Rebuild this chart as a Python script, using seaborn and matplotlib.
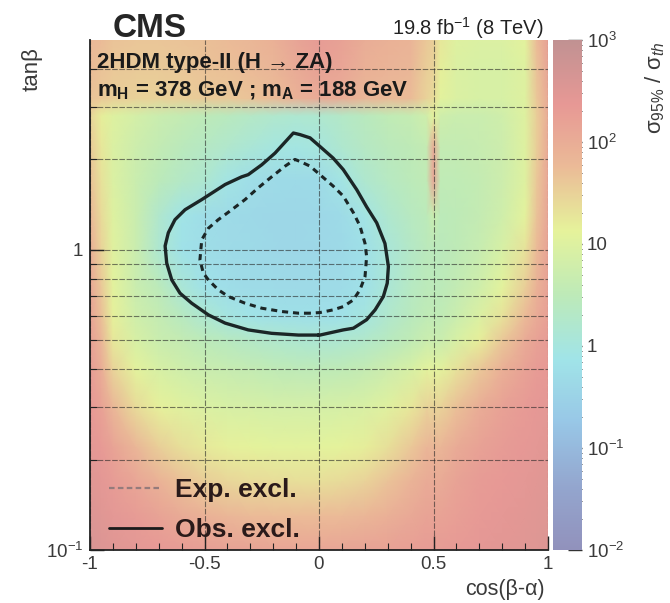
import numpy as np
import matplotlib
matplotlib.use("Agg")
import matplotlib.pyplot as plt
import seaborn as sns
from matplotlib.colors import LinearSegmentedColormap, LogNorm
from matplotlib.ticker import FixedLocator, NullFormatter
from matplotlib.lines import Line2D

# ---------------- data ----------------
cos_ba = [-1.0, -0.95, -0.9, -0.8, -0.7, -0.6, -0.5, -0.4, -0.3, -0.2, -0.1, 0.0,
          0.1, 0.2, 0.3, 0.4, 0.47, 0.5, 0.53, 0.6, 0.7, 0.8, 0.9, 0.95, 1.0]
tan_b = [0.10, 0.13, 0.17, 0.22, 0.30, 0.40, 0.50, 0.60, 0.75, 1.00, 1.30, 1.70,
         2.20, 2.80, 3.20, 4.00, 5.00]

r_010 = [400, 350, 300, 260, 230, 200, 180, 160, 150, 140, 130, 130, 140, 150, 160, 180, 200, 200, 200, 220, 250, 280, 300, 320, 350]
r_013 = [350, 300, 260, 200, 150, 110, 85, 70, 60, 55, 55, 55, 60, 70, 90, 120, 150, 150, 150, 180, 220, 250, 280, 300, 320]
r_017 = [300, 260, 200, 130, 80, 50, 35, 28, 25, 23, 22, 22, 24, 30, 45, 75, 110, 110, 110, 150, 200, 230, 260, 280, 300]
r_022 = [260, 220, 150, 70, 35, 22, 17, 14, 13, 12, 12, 12, 13, 15, 22, 40, 70, 70, 70, 110, 160, 200, 240, 260, 280]
r_030 = [230, 160, 70, 25, 14, 11, 9, 8, 7.5, 7, 7, 7, 7.5, 8.5, 11, 18, 30, 30, 30, 50, 100, 160, 210, 240, 260]
r_040 = [200, 100, 30, 12, 8, 6, 5, 4.5, 4, 3.5, 3.2, 3.2, 3.4, 4, 5.5, 8, 12, 12, 12, 20, 40, 90, 160, 200, 230]
r_050 = [170, 70, 18, 8, 5, 4, 3, 2.5, 2, 1.7, 1.5, 1.4, 1.5, 1.8, 2.5, 3.5, 5, 5, 5, 8, 15, 40, 110, 160, 200]
r_060 = [150, 50, 14, 6, 4, 2.5, 1.5, 0.95, 0.75, 0.65, 0.6, 0.6, 0.7, 1.0, 1.7, 2.6, 3.5, 3.5, 3.5, 5, 9, 20, 60, 110, 170]
r_075 = [130, 40, 12, 5, 3, 1.3, 0.7, 0.55, 0.5, 0.48, 0.47, 0.48, 0.52, 0.65, 1.3, 2.3, 3, 3, 3, 3.8, 6, 12, 35, 80, 160]
r_100 = [100, 30, 11, 5, 1.5, 0.7, 0.55, 0.48, 0.45, 0.42, 0.4, 0.42, 0.46, 0.6, 1.2, 2, 2.8, 2.8, 2.8, 3.3, 4.5, 8, 20, 60, 150]
r_130 = [70, 25, 10, 5, 1.7, 0.8, 0.55, 0.48, 0.44, 0.4, 0.4, 0.42, 0.5, 0.85, 1.6, 2.4, 3, 5, 3, 3.3, 4, 6, 12, 45, 140]
r_170 = [50, 20, 9, 5, 3, 2, 1.5, 0.85, 0.55, 0.48, 0.45, 0.5, 0.85, 1.6, 2.3, 3, 3.5, 130, 3.5, 3.5, 4, 5.5, 10, 40, 130]
r_220 = [40, 18, 9, 5.5, 3.8, 2.8, 2.2, 1.7, 1.3, 1.0, 0.9, 1.05, 1.6, 2.2, 2.8, 3.3, 4, 120, 4, 4, 4.5, 5.5, 10, 35, 120]
r_280 = [30, 15, 10, 7, 5, 4, 3.2, 2.6, 2.1, 1.7, 1.5, 1.6, 2, 2.6, 3.5, 4.2, 6, 12, 6, 5, 5, 6, 10, 35, 110]
r_320 = [45, 40, 35, 32, 32, 35, 38, 40, 45, 55, 80, 110, 100, 70, 60, 55, 30, 25, 12, 9, 8, 8, 10, 40, 120]
r_400 = [55, 45, 40, 38, 38, 40, 45, 50, 55, 70, 110, 160, 130, 85, 75, 65, 35, 30, 15, 9, 8, 8, 10, 45, 140]
r_500 = [65, 55, 45, 42, 42, 45, 50, 55, 65, 85, 140, 200, 160, 100, 85, 75, 40, 35, 18, 10, 9, 9, 12, 55, 170]

obs_cos = [-0.003, -0.090, -0.207, -0.309, -0.410, -0.483, -0.556, -0.607, -0.643, -0.665,
           -0.672, -0.658, -0.629, -0.585, -0.512, -0.410, -0.338, -0.309, -0.250, -0.192,
           -0.112, -0.083, -0.039, 0.004, 0.062, 0.106, 0.165, 0.208, 0.252, 0.288,
           0.303, 0.298, 0.281, 0.245, 0.208, 0.150, 0.106, 0.004, -0.003]
obs_tan = [0.520, 0.520, 0.527, 0.541, 0.570, 0.607, 0.664, 0.717, 0.794, 0.903,
           1.03, 1.14, 1.26, 1.36, 1.47, 1.65, 1.75, 1.78, 1.92, 2.10,
           2.45, 2.42, 2.36, 2.21, 2.02, 1.85, 1.585, 1.39, 1.23, 1.05,
           0.880, 0.774, 0.699, 0.631, 0.585, 0.548, 0.541, 0.520, 0.520]

exp_cos = [-0.039, -0.090, -0.163, -0.250, -0.323, -0.396, -0.440, -0.483, -0.505, -0.520,
           -0.512, -0.483, -0.440, -0.381, -0.323, -0.265, -0.207, -0.148, -0.105, -0.083,
           -0.039, 0.004, 0.062, 0.106, 0.150, 0.179, 0.201, 0.208, 0.201, 0.179,
           0.150, 0.106, 0.062, 0.004, -0.039]
exp_tan = [0.615, 0.615, 0.623, 0.639, 0.664, 0.699, 0.736, 0.794, 0.836, 0.926,
           1.08, 1.18, 1.26, 1.36, 1.47, 1.61, 1.75, 1.90, 2.00, 1.97,
           1.90, 1.78, 1.63, 1.51, 1.33, 1.20, 1.05, 0.950, 0.815, 0.736,
           0.681, 0.647, 0.631, 0.618, 0.615]

x_ticks = [-1, -0.5, 0, 0.5, 1]
x_ticklabels = ["-1", "-0.5", "0", "0.5", "1"]
y_ticks = [0.1, 1]
y_ticklabels = ["$10^{-1}$", "1"]
z_ticks = [1e-2, 1e-1, 1, 10, 1e2, 1e3]
z_ticklabels = ["$10^{-2}$", "$10^{-1}$", "1", "10", "$10^{2}$", "$10^{3}$"]

# ---------------- style ----------------
sns.set_style("ticks")
plt.rcParams['font.family'] = ['Liberation Sans', 'DejaVu Sans']
plt.rcParams['mathtext.fontset'] = 'custom'
plt.rcParams['mathtext.rm'] = 'Liberation Sans'
plt.rcParams['mathtext.it'] = 'Liberation Sans:italic'
plt.rcParams['mathtext.bf'] = 'Liberation Sans:bold'

W, H = 670, 603
fig = plt.figure(figsize=(W / 100, H / 100), dpi=100)
ax = fig.add_axes([90 / W, 1 - 550 / H, 458 / W, 510 / H])
cax = fig.add_axes([553 / W, 1 - 550 / H, 29 / W, 510 / H])

root_rainbow = np.array([[0, 0, 99], [5, 48, 142], [15, 124, 198], [35, 192, 201],
                         [102, 206, 90], [196, 226, 22], [208, 97, 13], [199, 16, 8],
                         [110, 0, 2]]) / 255.0
alpha = 0.43
pastel = 1 - alpha * (1 - root_rainbow)
cmap = LinearSegmentedColormap.from_list("rootrainbow", pastel, N=512)
norm = LogNorm(vmin=1e-2, vmax=1e3)

Z = np.array([r_010, r_013, r_017, r_022, r_030, r_040, r_050, r_060, r_075, r_100,
              r_130, r_170, r_220, r_280, r_320, r_400, r_500], dtype=float)
Xg, Yg = np.meshgrid(cos_ba, tan_b)

ax.set_yscale('log')
mesh = ax.pcolormesh(Xg, Yg, Z, cmap=cmap, norm=norm, shading='gouraud', zorder=1)
ax.set_xlim(-1, 1)
ax.set_ylim(0.1, 5.0)

line_col = '#1b2626'
sns.lineplot(x=obs_cos, y=obs_tan, sort=False, estimator=None, ax=ax,
             color=line_col, lw=2.4, zorder=4)
sns.lineplot(x=exp_cos, y=exp_tan, sort=False, estimator=None, ax=ax,
             color=line_col, lw=2.2, linestyle=(0, (2.0, 1.6)), zorder=4)

# ticks & grid
ax.xaxis.set_major_locator(FixedLocator(x_ticks))
ax.set_xticklabels(x_ticklabels)
ax.xaxis.set_minor_locator(FixedLocator(np.arange(-1, 1.001, 0.1)))
ax.yaxis.set_major_locator(FixedLocator(y_ticks))
ax.set_yticklabels(y_ticklabels)
ax.yaxis.set_minor_locator(FixedLocator([0.2, 0.3, 0.4, 0.5, 0.6, 0.7, 0.8, 0.9, 2, 3, 4]))
ax.yaxis.set_minor_formatter(NullFormatter())
ax.set_axisbelow(False)
gkw = dict(color='#262626', lw=0.8, alpha=0.6, linestyle=(0, (5, 1.5)))
ax.yaxis.grid(True, which='both', **gkw)
ax.xaxis.grid(True, which='major', **gkw)

ax.tick_params(which='both', direction='in', top=False, right=False,
               labelsize=13.5, labelcolor='#3a3a3a', color='#222222')
ax.tick_params(which='major', length=10, width=1)
ax.tick_params(which='minor', length=5, width=0.8)
ax.tick_params(axis='x', pad=4)
ax.tick_params(axis='y', pad=5)
for s in ['top', 'right']:
    ax.spines[s].set_visible(False)
for s in ['bottom', 'left']:
    ax.spines[s].set_color('#222222')
    ax.spines[s].set_linewidth(1.3)
ax.set_xlabel('')
ax.set_ylabel('')

# legend
handles = [Line2D([], [], color='#957b7b', lw=1.6, linestyle=(0, (2.5, 1.5))),
           Line2D([], [], color='#1b1b1b', lw=2.0)]
leg = ax.legend(handles, ['Exp. excl.', 'Obs. excl.'], loc='lower left',
                frameon=False, prop={'weight': 'bold', 'size': 19},
                handlelength=2.0, handletextpad=0.5, labelspacing=0.6,
                bbox_to_anchor=(0.03, 0.005), borderaxespad=0.0, borderpad=0.2)
for t in leg.get_texts():
    t.set_color('#2a1a1a')

# colorbar
cb = fig.colorbar(mesh, cax=cax)
cb.outline.set_visible(False)
cax.yaxis.set_major_locator(FixedLocator(z_ticks))
cax.set_yticklabels(z_ticklabels)
cax.tick_params(which='both', direction='in', right=True, left=False,
                labelsize=13.5, labelcolor='#3a3a3a', color='#333333')
cax.tick_params(which='major', length=10, width=1)
cax.tick_params(which='minor', length=5, width=0.7)

# texts
fig.text(113 / W, 1 - 37 / H, 'CMS', fontsize=24, fontweight='bold', va='baseline', ha='left')
fig.text(544 / W, 1 - 35 / H, '19.8 fb$^{-1}$ (8 TeV)', fontsize=14.5, va='baseline', ha='right',
         color='#222222')
fig.text(97 / W, 1 - 68 / H, '2HDM type-II (H → ZA)', fontsize=16, fontweight='bold',
         va='baseline', ha='left', color='#1a1a1a')
fig.text(97 / W, 1 - 96 / H, r'm$_{\mathbf{H}}$ = 378 GeV ; m$_{\mathbf{A}}$ = 188 GeV',
         fontsize=16, fontweight='bold', va='baseline', ha='left', color='#1a1a1a')
fig.text(32 / W, 1 - 47 / H, 'tanβ', rotation=90, ha='center', va='top', fontsize=16,
         color='#3a3a3a')
fig.text(545 / W, 1 - 590 / H, 'cos(β-α)', ha='right', va='center', fontsize=15.5,
         color='#3a3a3a')
fig.text(655 / W, 1 - 42 / H, r'σ$_{95\%}$ / σ$_{th}$', rotation=90, ha='center', va='top',
         fontsize=16, color='#3a3a3a')

fig.savefig('out.png', dpi=100)
